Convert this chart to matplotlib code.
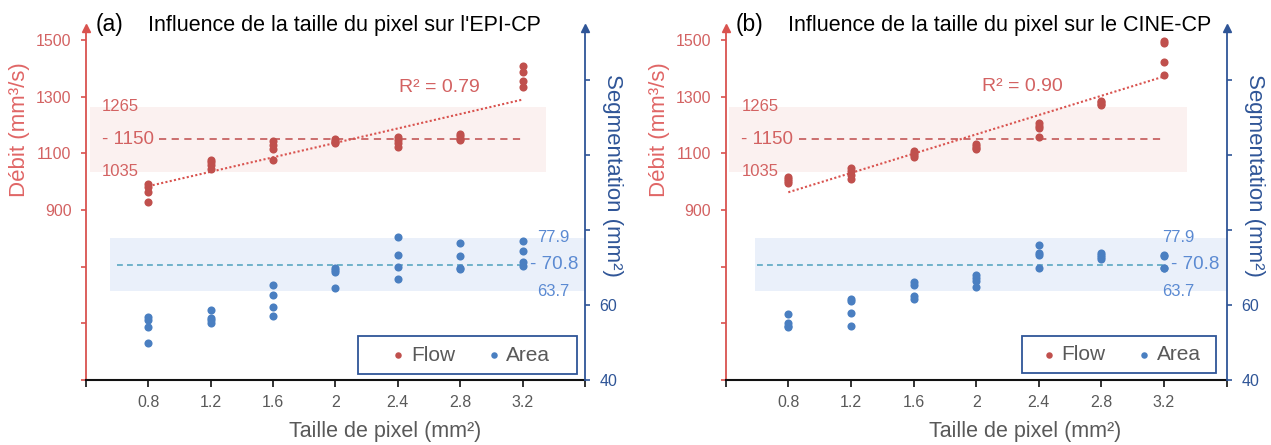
import numpy as np
import matplotlib.pyplot as plt
from matplotlib.patches import Rectangle

plt.rcParams['font.family'] = ['Liberation Sans', 'DejaVu Sans']

W, H = 1271, 445

# pixel sizes (mm2)
pixel_sizes = [0.8, 1.2, 1.6, 2.0, 2.4, 2.8, 3.2]
xtick_vals = [0.4, 0.8, 1.2, 1.6, 2.0, 2.4, 2.8, 3.2, 3.6]
xtick_labels = ['', '0.8', '1.2', '1.6', '2', '2.4', '2.8', '3.2', '']

# (a) EPI-CP : four measurements per pixel size
epi_flow = [[992, 982, 963, 930],
            [1078, 1070, 1060, 1045],
            [1142, 1130, 1115, 1078],
            [1152, 1145, 1140, 1135],
            [1158, 1147, 1135, 1124],
            [1168, 1160, 1152, 1148],
            [1410, 1386, 1355, 1335]]
epi_area = [[56.8, 56.0, 54.2, 50.0],
            [58.6, 56.6, 56.0, 55.3],
            [65.4, 62.7, 59.6, 57.2],
            [69.8, 69.3, 68.9, 64.6],
            [78.1, 73.4, 70.1, 67.0],
            [76.5, 73.2, 69.8, 69.5],
            [77.2, 74.4, 71.4, 70.3]]

# (b) CINE-CP
cine_flow = [[1015, 1008, 1002, 996],
             [1050, 1037, 1025, 1008],
             [1110, 1102, 1094, 1088],
             [1132, 1126, 1120, 1115],
             [1208, 1198, 1188, 1157],
             [1285, 1280, 1275, 1270],
             [1497, 1488, 1422, 1378]]
cine_area = [[57.5, 55.3, 54.5, 54.2],
             [61.7, 61.0, 57.9, 54.3],
             [66.1, 65.3, 62.5, 61.7],
             [67.9, 67.2, 66.5, 64.7],
             [76.1, 73.9, 73.3, 69.9],
             [74.0, 73.4, 72.9, 72.4],
             [73.3, 73.1, 70.0, 69.8]]

# reference bands
flow_ref = [1035, 1150, 1265]
area_ref = [63.7, 70.8, 77.9]

RED = '#c0504d'
RED_TXT = '#d36262'
BLUE = '#4a7fc1'
BLUE_TXT = '#5b8ad2'
NAVY = '#2f5597'
GREY = '#595959'


def draw_panel(left_px, width_px, flow, area, tag, title, r2, r2_pos,
               area_lbl_x, band_b0, box, leg_center):
    ax = fig.add_axes([left_px / W, 1 - 380 / H, width_px / W, 352 / H])
    ax2 = ax.twinx()
    ax.set_xlim(0.4, 3.6)
    ax.set_ylim(300, 1542.4)
    ax2.set_ylim(40, 133.9)

    xs = np.repeat(pixel_sizes, [len(v) for v in flow])
    fy = np.concatenate(flow)
    ay = np.concatenate(area)

    # bands and reference lines
    ax.axhspan(flow_ref[0], flow_ref[2], xmin=(0.423 - 0.4) / 3.2,
               xmax=(3.35 - 0.4) / 3.2, color='#fbf1f0', lw=0, zorder=0)
    ax2.axhspan(area_ref[0], area_ref[2], xmin=(band_b0 - 0.4) / 3.2, xmax=1,
                color='#eaf0fa', lw=0, zorder=0)
    ax.plot([0.867, 3.2], [flow_ref[1]] * 2, color='#c86464', lw=1.3,
            ls=(0, (4, 3)), zorder=1)
    ax2.plot([0.6, 3.2], [area_ref[1]] * 2, color='#5aa7c2', lw=1.2,
             ls=(0, (3.5, 2.5)), zorder=1)

    # trend line from the flow points
    k, b = np.polyfit(xs, fy, 1)
    tx = np.array([0.8, 3.2])
    ax.plot(tx, k * tx + b, color='#d9534f', lw=1.5, ls=(0, (1, 1.1)), zorder=2)

    sf = ax.scatter(xs, fy, s=34, color=RED, lw=0, zorder=3)
    sa = ax2.scatter(xs, ay, s=34, color=BLUE, lw=0, zorder=3)

    # annotations
    ax.text(0.5, flow_ref[2], '1265', color=RED_TXT, fontsize=12, va='center')
    ax.text(0.5, flow_ref[0], '1035', color=RED_TXT, fontsize=12, va='center')
    ax.text(0.5, flow_ref[1], '- 1150', color=RED_TXT, fontsize=13.5, va='center')
    ax.text(r2_pos[0], r2_pos[1], r2, color=RED_TXT, fontsize=14, va='center')
    ax2.text(area_lbl_x, area_ref[2], '77.9', color=BLUE_TXT, fontsize=12, va='center')
    ax2.text(area_lbl_x, area_ref[0], '63.7', color=BLUE_TXT, fontsize=12, va='center')
    ax2.text(3.245, area_ref[1], '- 70.8', color=BLUE_TXT, fontsize=13.5, va='center')

    # axes styling
    for s in ['top', 'right']:
        ax.spines[s].set_visible(False)
    for s in ['top', 'left', 'bottom']:
        ax2.spines[s].set_visible(False)
    ax.spines['left'].set_color('#d9534f')
    ax.spines['left'].set_linewidth(1.3)
    ax.spines['bottom'].set_color('#111111')
    ax.spines['bottom'].set_linewidth(1.5)
    ax2.spines['right'].set_color(NAVY)
    ax2.spines['right'].set_linewidth(1.3)

    ax.set_xticks(xtick_vals)
    ax.set_xticklabels(xtick_labels)
    ax.tick_params(axis='x', colors='#111111', labelcolor=GREY, labelsize=11.5,
                   length=5, width=1.2, pad=6)
    lt = [300, 500, 700, 900, 1100, 1300, 1500]
    ax.set_yticks(lt)
    ax.set_yticklabels([str(v) if v >= 900 else '' for v in lt])
    ax.tick_params(axis='y', colors='#d9534f', labelcolor=RED_TXT, labelsize=11.5,
                   length=3.5, width=1.2, pad=7)
    rt = [40, 60, 80, 100, 120]
    ax2.set_yticks(rt)
    ax2.set_yticklabels([str(v) if v <= 60 else '' for v in rt])
    ax2.tick_params(axis='y', colors=NAVY, labelcolor=NAVY, labelsize=11.5,
                    length=3.5, width=1.2, pad=7)

    # arrow heads on the vertical axes
    ax.plot(0, 1, marker='^', ms=6, color='#d9534f', transform=ax.transAxes,
            clip_on=False, zorder=6)
    ax2.plot(1, 1, marker='^', ms=6, color=NAVY, transform=ax2.transAxes,
             clip_on=False, zorder=6)

    # legend with its own frame
    ax2.add_patch(Rectangle((box[0], box[1]), box[2], box[3], transform=ax2.transAxes,
                            facecolor='white', edgecolor=NAVY, lw=1.3, zorder=8,
                            clip_on=False))
    leg = ax2.legend([sf, sa], ['Flow', 'Area'], loc='center',
                     bbox_to_anchor=leg_center, ncol=2, frameon=False, fontsize=15,
                     handlelength=0.5, handletextpad=0.35, columnspacing=1.6,
                     markerscale=0.8, labelcolor=GREY, borderaxespad=0)
    leg.set_zorder(9)

    # labels and titles
    x0 = left_px / W
    fig.text(x0 + 9.5 / W, 1 - 31 / H, tag, fontsize=16.5, ha='left', va='baseline')
    fig.text(x0 + 62 / W, 1 - 31 / H, title, fontsize=15.5, ha='left', va='baseline')
    fig.text(x0 - 66 / W, 1 - 130 / H, 'Débit (mm³/s)', color='#e06666', fontsize=16,
             rotation=90, ha='center', va='center')
    fig.text(x0 + width_px / W + 28 / W, 1 - 175 / H, 'Segmentation (mm²)', color=NAVY,
             fontsize=16, rotation=270, ha='center', va='center')
    fig.text(x0 + 299 / W, 1 - 431 / H, 'Taille de pixel (mm²)', color=GREY,
             fontsize=15.5, ha='center', va='center')


fig = plt.figure(figsize=(W / 100, H / 100), dpi=100)
draw_panel(86, 499, epi_flow, epi_area, '(a)',
           "Influence de la taille du pixel sur l'EPI-CP", 'R² = 0.79', (2.41, 1331),
           3.29, 0.557, (0.545, 0.017, 0.439, 0.108), (0.773, 0.071))
draw_panel(725.7, 500.9, cine_flow, cine_area, '(b)',
           'Influence de la taille du pixel sur le CINE-CP', 'R² = 0.90', (2.04, 1335),
           3.19, 0.585, (0.592, 0.02, 0.386, 0.105), (0.792, 0.072))

fig.savefig('out.png', dpi=100, facecolor='white')
